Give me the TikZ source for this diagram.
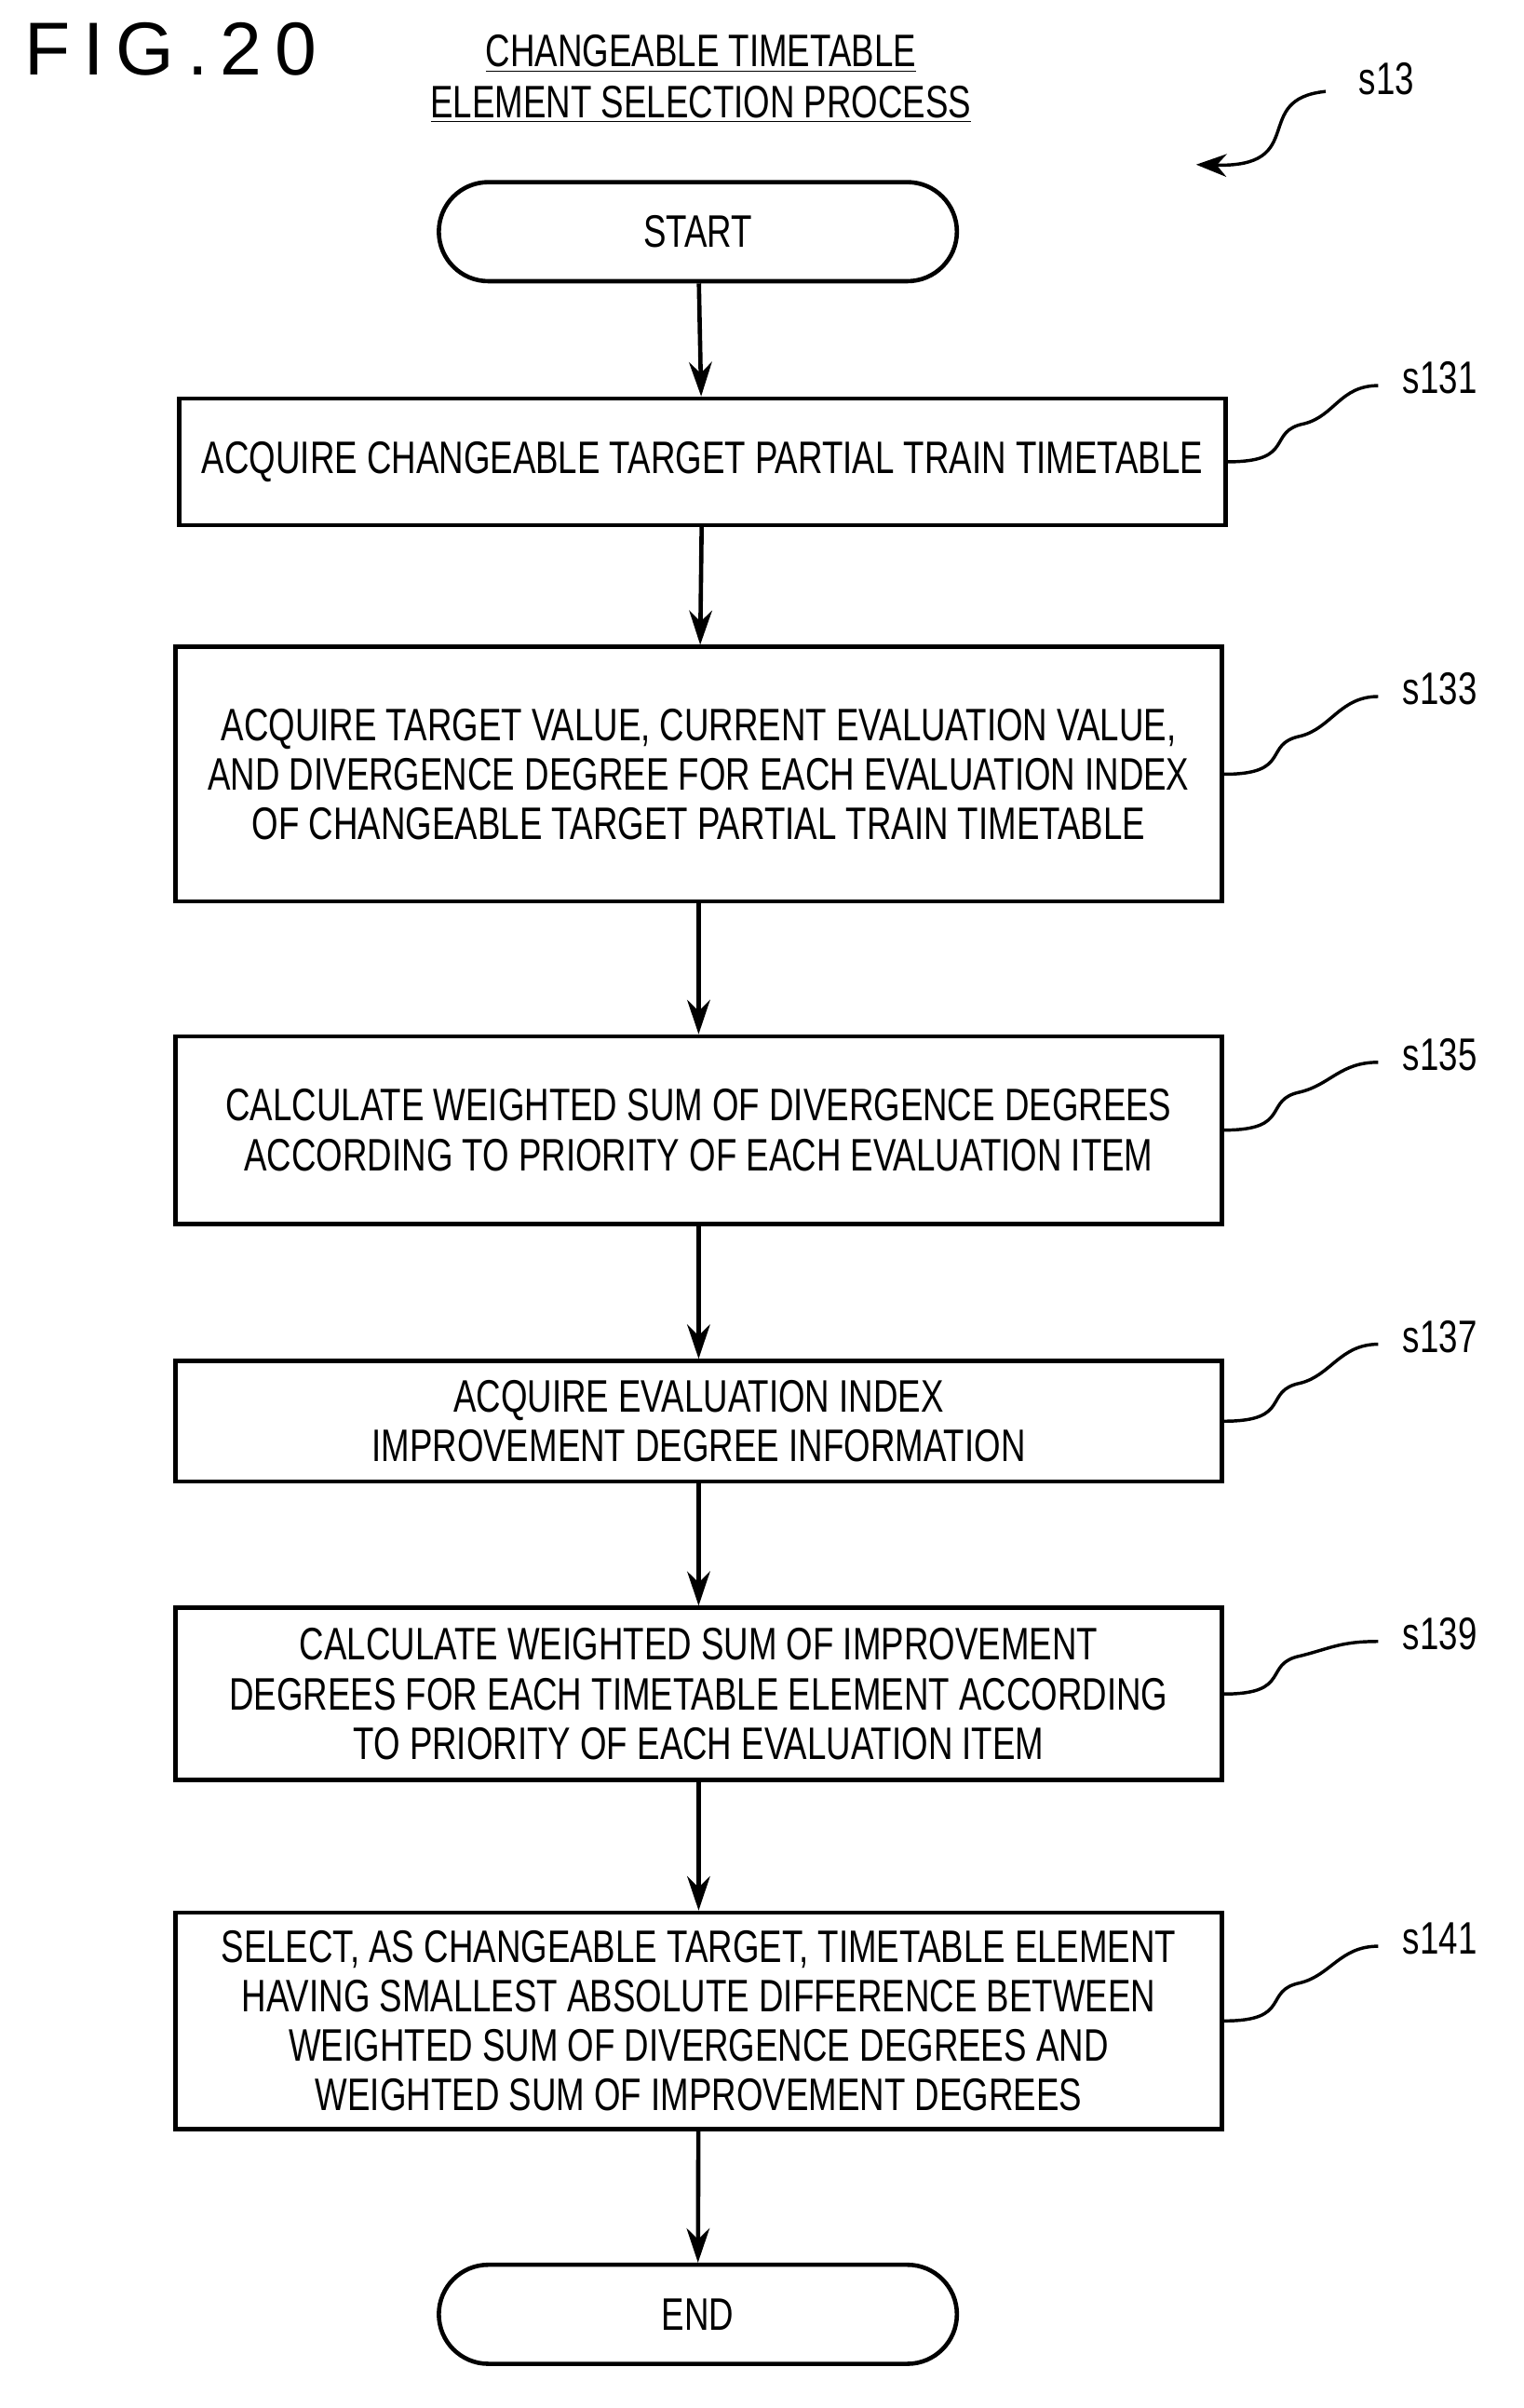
\documentclass[tikz,border=0pt]{standalone}
\usepackage{fontspec}
\setmainfont{Liberation Sans}[FakeStretch=0.75]
\newfontfamily\figfont{Liberation Sans}
\usetikzlibrary{arrows.meta,positioning,calc}
\tikzset{
  box/.style={draw, line width=1.6pt, minimum width=13.74cm, align=center,
    font=\fontsize{17}{18.5}\selectfont},
  term/.style={draw, line width=1.6pt, rounded corners=0.65cm, minimum width=6.8cm,
    minimum height=1.3cm, font=\fontsize{17}{18.5}\selectfont},
  arr/.style={line width=1.6pt, -{Stealth[length=0.45cm,width=0.3cm]}},
  lead/.style={line width=1.2pt},
  lab/.style={font=\fontsize{17}{18}\selectfont}
}
\begin{document}
\begin{tikzpicture}
\useasboundingbox (0,0) rectangle (20,-31.6);
\node[anchor=west, font=\figfont\fontsize{28}{28}\selectfont] (fig) at (0.2,-0.64) {F\,I\,G\,.\,2\,0};
\node[align=center, font=\fontsize{17}{19}\selectfont] (title) at (9.2,-1.04)
  {\underline{CHANGEABLE TIMETABLE}\\\underline{ELEMENT SELECTION PROCESS}};
\node[term] (start) at (9.16,-3.04) {START};
\node[box, minimum height=1.66cm] (s131) at (9.22,-6.06) {ACQUIRE CHANGEABLE TARGET PARTIAL TRAIN TIMETABLE};
\node[box, minimum height=3.34cm] (s133) at (9.17,-10.16) {ACQUIRE TARGET VALUE, CURRENT EVALUATION VALUE,\\AND DIVERGENCE DEGREE FOR EACH EVALUATION INDEX\\OF CHANGEABLE TARGET PARTIAL TRAIN TIMETABLE};
\node[box, minimum height=2.46cm] (s135) at (9.17,-14.83) {CALCULATE WEIGHTED SUM OF DIVERGENCE DEGREES\\ACCORDING TO PRIORITY OF EACH EVALUATION ITEM};
\node[box, minimum height=1.58cm] (s137) at (9.17,-18.65) {ACQUIRE EVALUATION INDEX\\IMPROVEMENT DEGREE INFORMATION};
\node[box, minimum height=2.26cm] (s139) at (9.17,-22.23) {CALCULATE WEIGHTED SUM OF IMPROVEMENT\\DEGREES FOR EACH TIMETABLE ELEMENT ACCORDING\\TO PRIORITY OF EACH EVALUATION ITEM};
\node[box, minimum height=2.84cm] (s141) at (9.17,-26.52) {SELECT, AS CHANGEABLE TARGET, TIMETABLE ELEMENT\\HAVING SMALLEST ABSOLUTE DIFFERENCE BETWEEN\\WEIGHTED SUM OF DIVERGENCE DEGREES AND\\WEIGHTED SUM OF IMPROVEMENT DEGREES};
\node[term] (end) at (9.16,-30.37) {END};
% arrows
\draw[arr] (start) -- (s131);
\draw[arr] (s131) -- (s133);
\draw[arr] (s133) -- (s135);
\draw[arr] (s135) -- (s137);
\draw[arr] (s137) -- (s139);
\draw[arr] (s139) -- (s141);
\draw[arr] (s141) -- (end);
% step labels
\node[lab] (l13) at (18.2,-1.04) {s13};
\coordinate (a13) at (15.7,-2.16);
\draw[lead, -{Stealth[length=0.4cm,width=0.3cm]}] (17.4,-1.2) .. controls (16.4,-1.3) and (17.2,-2.2) .. (a13);
\foreach \s/\y in {131/-4.96, 133/-9.04, 135/-13.84, 137/-17.54, 139/-21.44, 141/-25.44} {
  \node[lab] (l\s) at (18.9,\y) {s\s};
  \draw[lead] (s\s.east) .. controls +(0.9,0) and +(-0.5,-0.1) .. ++(1.0,0.5)
    .. controls +(0.4,0.1) and +(-0.5,0) .. ($(l\s.west)+(-0.2,-0.1)$);
}
\end{tikzpicture}
\end{document}
